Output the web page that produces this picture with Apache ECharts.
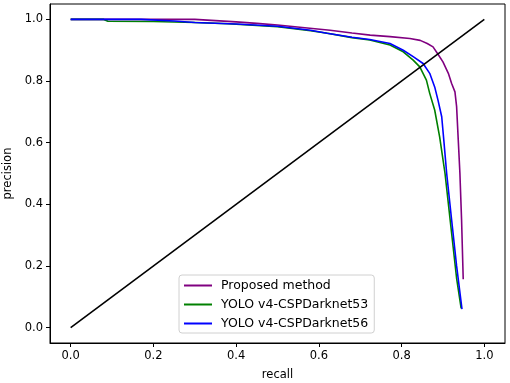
<!DOCTYPE html>
<html>
<head>
<meta charset="utf-8">
<script src="https://cdn.jsdelivr.net/npm/echarts@6/dist/echarts.min.js"></script>
<style>
    html, body { margin: 0; padding: 0; background: #fff; }
    #chart { width: 510px; height: 383px; }
</style>
</head>
<body>
<div id="chart"></div>
<script>
    // tick labels
    var ticks = [0, 0.2, 0.4, 0.6, 0.8, 1.0]

    // Proposed method
    var proposedRecall = [0, 0.3, 0.35, 0.4, 0.45, 0.5, 0.56, 0.627, 0.68, 0.724, 0.772, 0.82, 0.845, 0.862, 0.876, 0.888, 0.9, 0.913, 0.921, 0.929, 0.933, 0.937, 0.941, 0.945, 0.949]
    var proposedPrecision = [1, 1, 0.996, 0.992, 0.987, 0.982, 0.974, 0.965, 0.956, 0.949, 0.944, 0.938, 0.932, 0.922, 0.911, 0.887, 0.862, 0.825, 0.792, 0.765, 0.717, 0.609, 0.5, 0.35, 0.157]

    // YOLO v4-CSPDarknet53
    var d53Recall = [0, 0.08, 0.09, 0.2, 0.3, 0.38, 0.45, 0.5, 0.58, 0.62, 0.68, 0.723, 0.772, 0.804, 0.828, 0.844, 0.86, 0.868, 0.88, 0.892, 0.905, 0.919, 0.933, 0.944]
    var d53Precision = [1, 1, 0.994, 0.993, 0.99, 0.986, 0.98, 0.976, 0.963, 0.955, 0.941, 0.933, 0.917, 0.895, 0.868, 0.846, 0.803, 0.76, 0.706, 0.619, 0.5, 0.33, 0.16, 0.062]

    // YOLO v4-CSPDarknet56
    var d56Recall = [0, 0.17, 0.25, 0.3, 0.4, 0.5, 0.58, 0.62, 0.68, 0.723, 0.772, 0.804, 0.828, 0.852, 0.868, 0.88, 0.888, 0.897, 0.902, 0.909, 0.921, 0.933, 0.946]
    var d56Precision = [1, 1, 0.995, 0.99, 0.985, 0.978, 0.965, 0.955, 0.942, 0.935, 0.922, 0.9, 0.879, 0.857, 0.825, 0.781, 0.738, 0.684, 0.609, 0.5, 0.349, 0.2, 0.06]

    // diagonal
    var diagX = [0, 1]
    var diagY = [0, 1]

    function zip(a, b) {
        return a.map(function (v, i) { return [v, b[i]] })
    }

    var font = 'DejaVu Sans'
    var myChart = echarts.init(document.getElementById('chart'))

    function axis(name, gap, rotate) {
        return {
            type: 'value',
            min: -0.05,
            max: 1.05,
            name: name,
            nameLocation: 'middle',
            nameGap: gap,
            nameRotate: rotate,
            nameTextStyle: { color: '#000', fontSize: 11.5, fontFamily: font },
            splitLine: { show: false },
            axisLine: { show: true, onZero: false, lineStyle: { color: '#000', width: 1 } },
            axisTick: { show: true, length: 4, customValues: ticks, lineStyle: { color: '#000' } },
            axisLabel: {
                customValues: ticks,
                color: '#000',
                fontSize: 11.5,
                fontFamily: font,
                margin: 7,
                formatter: function (v) { return v.toFixed(1) }
            }
        }
    }

    var options = {
        animation: false,
        backgroundColor: '#fff',
        grid: {
            left: 50, right: 5, top: 4, bottom: 40,
            outerBoundsMode: 'none',
            containLabel: false,
            show: true,
            borderColor: '#000',
            borderWidth: 1
        },
        legend: {
            data: ['Proposed method', 'YOLO v4-CSPDarknet53', 'YOLO v4-CSPDarknet56'],
            orient: 'vertical',
            left: 179,
            top: 275,
            padding: [4, 6, 3, 4],
            itemWidth: 28,
            itemHeight: 14,
            itemGap: 6,
            itemStyle: { opacity: 0 },
            backgroundColor: '#fff',
            borderColor: '#d0d0d0',
            borderWidth: 1,
            borderRadius: 3,
            textStyle: { color: '#000', fontSize: 12.5, fontFamily: font, padding: [0, 0, 0, 4] }
        },
        xAxis: axis('recall', 26, 0),
        yAxis: axis('precision', 35, 90),
        series: [
            {
                name: 'Proposed method',
                type: 'line',
                symbol: 'none',
                lineStyle: { color: '#800080', width: 1.6 },
                itemStyle: { color: '#800080' },
                data: zip(proposedRecall, proposedPrecision)
            },
            {
                name: 'YOLO v4-CSPDarknet53',
                type: 'line',
                symbol: 'none',
                lineStyle: { color: '#008000', width: 1.6 },
                itemStyle: { color: '#008000' },
                data: zip(d53Recall, d53Precision)
            },
            {
                name: 'YOLO v4-CSPDarknet56',
                type: 'line',
                symbol: 'none',
                lineStyle: { color: '#0000ff', width: 1.6 },
                itemStyle: { color: '#0000ff' },
                data: zip(d56Recall, d56Precision)
            },
            {
                name: 'diagonal',
                type: 'line',
                symbol: 'none',
                lineStyle: { color: '#000', width: 1.6 },
                data: zip(diagX, diagY)
            }
        ]
    }
    myChart.setOption(options)
    window.addEventListener('resize', myChart.resize)
</script>
</body>
</html>
